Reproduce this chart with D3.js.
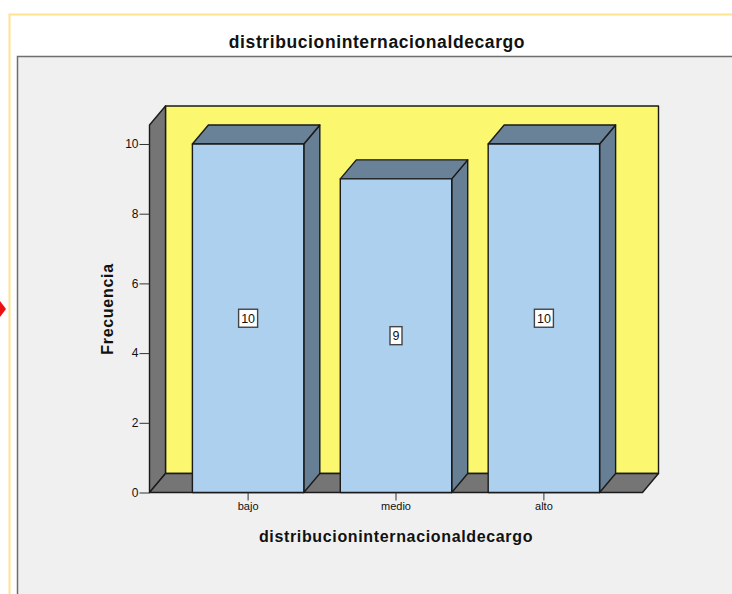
<!DOCTYPE html>
<html>
<head>
<meta charset="utf-8">
<script src="https://cdn.jsdelivr.net/npm/d3@7"></script>
<style>
  html, body { margin: 0; padding: 0; background: #fff; overflow: hidden; }
  text { font-family: "Liberation Sans", Arial, sans-serif; fill: #111; }
</style>
</head>
<body>
<div id="chart"></div>
<script>
// values
var categories = ["bajo", "medio", "alto"];
var frequencies = [10, 9, 10];
var yTicks = [0, 2, 4, 6, 8, 10];
var chartTitle = "distribucioninternacionaldecargo";
var xTitle = "distribucioninternacionaldecargo";
var yTitle = "Frecuencia";

var width = 732, height = 594;

// offset of the back wall from the front plane
var depthX = 16, depthY = -19;
var plotLeft = 149.5, plotRight = 642.5, plotBottom = 492.5, plotTop = 125;

var svg = d3.select("#chart").append("svg")
  .attr("width", width)
  .attr("height", height)
  .style("display", "block");

var x = d3.scaleBand()
  .domain(categories)
  .range([plotLeft, plotRight])
  .paddingInner(0.2466)
  .paddingOuter(0.29);

var y = d3.scaleLinear().domain([0, 10.545]).range([plotBottom, plotTop]);

function poly(points, fill) {
  return svg.append("polygon")
    .attr("points", points.map(function(p) { return p.join(","); }).join(" "))
    .attr("fill", fill)
    .attr("stroke", "#1a1a1a")
    .attr("stroke-width", 1.4)
    .attr("stroke-linejoin", "round");
}

// outer frame and grey panel
svg.append("rect").attr("x", 9.5).attr("y", 14.5)
  .attr("width", width + 20).attr("height", height + 20)
  .attr("fill", "#fff").attr("stroke", "#ffe38f").attr("stroke-width", 2);
svg.append("rect").attr("x", 17.5).attr("y", 56.5)
  .attr("width", width + 20).attr("height", height + 20)
  .attr("fill", "#f0f0f0").attr("stroke", "#6e6e6e").attr("stroke-width", 1.5);

// small red marker on the left edge
svg.append("path").attr("d", "M0,301L6,309L0,317Z").attr("fill", "#ee1111");

svg.append("text").attr("x", 377).attr("y", 47.5)
  .attr("text-anchor", "middle")
  .attr("font-size", 17.5).attr("font-weight", "bold")
  .style("letter-spacing", "0.6px")
  .text(chartTitle);

// back wall, side wall, floor
poly([[plotLeft + depthX, plotTop + depthY], [plotRight + depthX, plotTop + depthY], [plotRight + depthX, plotBottom + depthY], [plotLeft + depthX, plotBottom + depthY]], "#fbf76f");
poly([[plotLeft, plotTop], [plotLeft + depthX, plotTop + depthY], [plotLeft + depthX, plotBottom + depthY], [plotLeft, plotBottom]], "#757575");
poly([[plotLeft, plotBottom], [plotLeft + depthX, plotBottom + depthY], [plotRight + depthX, plotBottom + depthY], [plotRight, plotBottom]], "#757575");

// bars: side and top faces then the front
categories.forEach(function(c, i) {
  var x0 = x(c), x1 = x0 + x.bandwidth(), yv = y(frequencies[i]);
  poly([[x1, yv], [x1 + depthX, yv + depthY], [x1 + depthX, plotBottom + depthY], [x1, plotBottom]], "#677f94");
  poly([[x0, yv], [x0 + depthX, yv + depthY], [x1 + depthX, yv + depthY], [x1, yv]], "#6a8297");
  poly([[x0, yv], [x1, yv], [x1, plotBottom], [x0, plotBottom]], "#acd0ee");
});

// axes
var yAxis = d3.axisLeft(y).tickValues(yTicks).tickSize(10).tickPadding(1).tickFormat(d3.format("d"));
var xAxis = d3.axisBottom(x).tickSize(8).tickPadding(2);

var yG = svg.append("g").attr("transform", "translate(" + plotLeft + ",0)").call(yAxis);
yG.select(".domain").remove();
var xG = svg.append("g").attr("transform", "translate(0," + plotBottom + ")").call(xAxis);
xG.select(".domain").remove();
svg.selectAll(".tick line").attr("stroke", "#333").attr("stroke-width", 1);
svg.selectAll(".tick text").attr("font-size", 12)
  .attr("font-family", "'Liberation Sans', Arial, sans-serif").attr("fill", "#222");
xG.selectAll(".tick text").attr("font-size", 11);

// value labels in the middle of each bar
categories.forEach(function(c, i) {
  var cx = x(c) + x.bandwidth() / 2, cy = y(frequencies[i] / 2);
  var label = String(frequencies[i]);
  var w = label.length > 1 ? 19 : 12;
  svg.append("rect").attr("x", cx - w / 2).attr("y", cy - 9)
    .attr("width", w).attr("height", 18)
    .attr("fill", "#fff").attr("stroke", "#444").attr("stroke-width", 1.4);
  svg.append("text").attr("x", cx).attr("y", cy + 4.5)
    .attr("text-anchor", "middle").attr("font-size", 12.5)
    .text(label);
});

svg.append("text").attr("x", 396).attr("y", 542)
  .attr("text-anchor", "middle")
  .attr("font-size", 16).attr("font-weight", "bold")
  .style("letter-spacing", "0.65px")
  .text(xTitle);

svg.append("text")
  .attr("transform", "translate(113,309) rotate(-90)")
  .attr("text-anchor", "middle")
  .attr("font-size", 16).attr("font-weight", "bold")
  .style("letter-spacing", "0.7px")
  .text(yTitle);
</script>
</body>
</html>
